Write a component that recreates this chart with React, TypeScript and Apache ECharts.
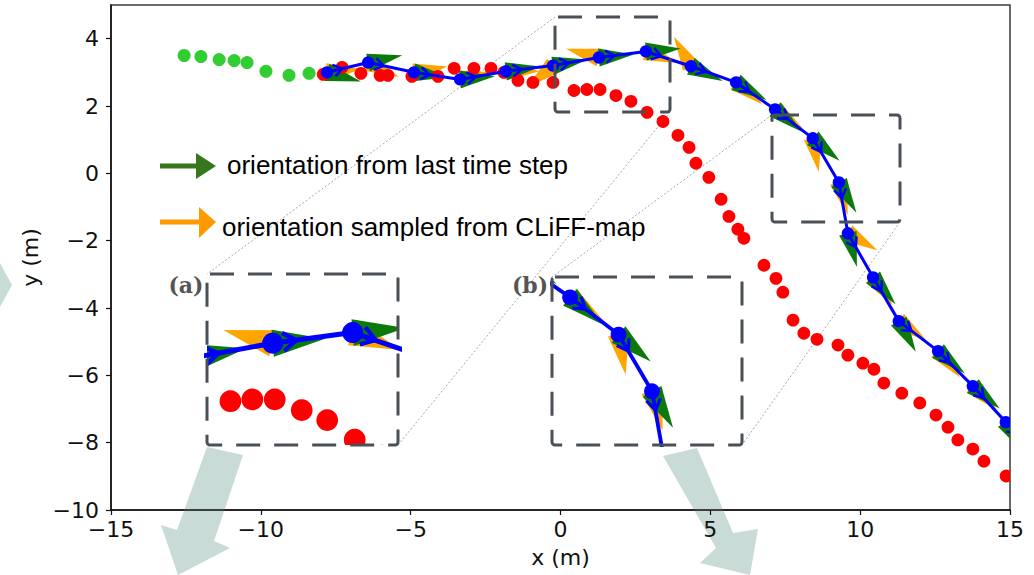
import React, { useEffect, useRef } from "react";
import * as echarts from "echarts";

// ---------- data ----------
const xTicks = [-15, -10, -5, 0, 5, 10, 15];
const yTicks = [-10, -8, -6, -4, -2, 0, 2, 4];

// observed past trajectory (green dots)
const pastX = [-12.56, -12.0, -11.39, -10.89, -10.46, -9.83, -9.06, -8.39];
const pastY = [3.5, 3.47, 3.38, 3.35, 3.29, 3.03, 2.91, 2.97];

// ground-truth future (red dots)
const truthX = [
  -7.92, -7.29, -6.66, -6.02, -5.76, -4.96, -4.09, -3.55, -2.89, -2.32, -1.89, -1.42, -0.92, -0.25,
  0.45, 0.88, 1.32, 1.85, 2.35, 2.89, 3.42, 3.92, 4.29, 4.52, 4.95, 5.36, 5.62, 5.92, 6.12,
  6.79, 7.19, 7.42, 7.76, 8.12, 8.56, 9.26, 9.59, 10.09, 10.46, 10.79, 11.39, 11.99, 12.53,
  12.93, 13.26, 13.76, 14.13, 14.87,
];
const truthY = [
  2.94, 3.15, 2.97, 2.91, 2.91, 2.88, 2.88, 3.12, 3.12, 3.12, 3.0, 2.76, 2.7, 2.7,
  2.46, 2.49, 2.49, 2.31, 2.14, 1.81, 1.54, 1.13, 0.77, 0.3, -0.12, -0.77, -1.28, -1.66, -1.93,
  -2.73, -3.12, -3.53, -4.36, -4.75, -4.93, -5.1, -5.4, -5.64, -5.82, -6.23, -6.53, -6.82, -7.18,
  -7.54, -7.92, -8.19, -8.55, -8.99,
];

// predicted trajectory (blue)
const predX = [-7.79, -6.42, -4.89, -3.35, -1.82, -0.25, 1.28, 2.85, 4.35, 5.86, 7.16, 8.42, 9.29, 9.59, 10.43, 11.29, 12.6, 13.76, 14.86];
const predY = [3.0, 3.29, 3.0, 2.79, 3.03, 3.2, 3.44, 3.62, 3.18, 2.7, 1.9, 1.04, -0.27, -1.78, -3.09, -4.39, -5.28, -6.32, -7.39];
// heading of blue arrowheads (deg)
const predHeading = [14, -12, -9, 10, 7, 10, 7, -18, -20, -35, -37, -59, -80, -60, -59, -38, -45, -47, -47];
// orientation from last time step (green), deg
const greenAngle = [-15, 12, -8, 5, 8, 10, 5, 5, -25, -30, -40, -40, -60, -75, -50, -61, -40, -40, -60];
// orientation sampled from CLiFF-map (orange), deg
const orangeAngle = [5, -25, 10, 12, 0, 220, 165, -20, 120, -40, -35, -80, -75, -30, -55, -35, -50, -45, -55];

const legendLabels = ["orientation from last time step", "orientation sampled from CLiFF-map"];
const insetLabels = ["(a)", "(b)"];

// axis windows of the two magnified insets
const insetAX = [-0.01, 3.74];
const insetAY = [1.72, 4.61];
const insetBX = [6.69, 11.63];
const insetBY = [-1.51, 2.37];

// ---------- styles ----------
const RED = "#ff0000";
const LIME = "#32cd32";
const BLUE = "#0000ff";
const GREEN = "#0b7a0b";
const ORANGE = "#ffa500";
const TICK_FONT = "DejaVu Sans";

const minus = (v: number) => String(v).replace("-", "\u2212");

function dotRender(r: number, color: string) {
  return (_p: any, api: any) => {
    const c = api.coord([api.value(0), api.value(1)]);
    return { type: "circle", shape: { cx: c[0], cy: c[1], r }, style: { fill: color } };
  };
}

function arrowRender(L: number, hw: number, color: string) {
  return (_p: any, api: any) => {
    const c = api.coord([api.value(0), api.value(1)]);
    const t = (api.value(2) * Math.PI) / 180;
    const ux = Math.cos(t);
    const uy = -Math.sin(t);
    const px = -uy;
    const py = ux;
    return {
      type: "polygon",
      shape: {
        points: [
          [c[0] + hw * px, c[1] + hw * py],
          [c[0] + L * ux, c[1] + L * uy],
          [c[0] - hw * px, c[1] - hw * py],
        ],
      },
      style: { fill: color },
    };
  };
}

function chevronRender(d: number, a: number, w: number, lw: number) {
  return (_p: any, api: any) => {
    const c = api.coord([api.value(0), api.value(1)]);
    const t = (api.value(2) * Math.PI) / 180;
    const ux = Math.cos(t);
    const uy = -Math.sin(t);
    const px = -uy;
    const py = ux;
    const ax = c[0] + d * ux;
    const ay = c[1] + d * uy;
    return {
      type: "polyline",
      shape: {
        points: [
          [ax - a * ux + w * px, ay - a * uy + w * py],
          [ax, ay],
          [ax - a * ux - w * px, ay - a * uy - w * py],
        ],
      },
      style: { stroke: BLUE, lineWidth: lw, fill: null },
    };
  };
}

function seriesFor(g: number, f: number) {
  const base = { coordinateSystem: "cartesian2d", xAxisIndex: g, yAxisIndex: g, clip: true, silent: true };
  const past = pastX.map((x, i) => [x, pastY[i]]);
  const truth = truthX.map((x, i) => [x, truthY[i]]);
  const pred = predX.map((x, i) => [x, predY[i]]);
  const green = predX.map((x, i) => [x, predY[i], greenAngle[i]]);
  const orange = predX.map((x, i) => [x, predY[i], orangeAngle[i]]);
  const heads = predX.map((x, i) => [x, predY[i], predHeading[i]]);
  const af = g === 0 ? 1 : g === 1 ? 1.5 : 1.2;
  return [
    { ...base, type: "custom", z: 2, encode: { x: 0, y: 1 }, data: past, renderItem: dotRender(6.5 * f, LIME) },
    { ...base, type: "custom", z: 3, encode: { x: 0, y: 1 }, data: orange, renderItem: arrowRender(34 * af, 9 * af, ORANGE) },
    { ...base, type: "custom", z: 4, encode: { x: 0, y: 1 }, data: green, renderItem: arrowRender(35 * af, 9 * af, GREEN) },
    { ...base, type: "custom", z: 5, encode: { x: 0, y: 1 }, data: truth, renderItem: dotRender(6.4 * f, RED) },
    {
      ...base,
      type: "line",
      z: 6,
      data: pred,
      showSymbol: false,
      lineStyle: { color: BLUE, width: 3 * f },
    },
    { ...base, type: "custom", z: 7, encode: { x: 0, y: 1 }, data: pred, renderItem: dotRender(6.2 * f, BLUE) },
    { ...base, type: "custom", z: 8, encode: { x: 0, y: 1 }, data: heads, renderItem: chevronRender(16 * af, 9 * af, 6 * af, 2.5 * f) },
  ];
}

function overlayArrow(points: number[][]) {
  return { type: "polygon", z: 1, shape: { points }, style: { fill: "#c3d7d1", opacity: 0.9 } };
}

function dashedBox(x: number, y: number, w: number, h: number) {
  return {
    type: "rect",
    z: 100,
    shape: { x, y, width: w, height: h, r: 3 },
    style: { fill: "none", stroke: "#4b5057", lineWidth: 3, lineDash: [24, 14] },
  };
}

function connector(x1: number, y1: number, x2: number, y2: number) {
  return {
    type: "line",
    z: 1,
    shape: { x1, y1, x2, y2 },
    style: { stroke: "#a8a8a8", lineWidth: 1, lineDash: [2, 2] },
  };
}

export default function App() {
  const ref = useRef<HTMLDivElement>(null);
  useEffect(() => {
    if (!ref.current) return;
    const chart = echarts.init(ref.current, undefined, { renderer: "svg" });
    const hiddenAxis = (gi: number, r: number[]) => ({ gridIndex: gi, type: "value", min: r[0], max: r[1], show: false });
    chart.setOption({
      animation: false,
      backgroundColor: "#fff",
      grid: [
        { left: 111, top: 5, width: 899, height: 505, show: true, borderColor: "#3a3a3a", borderWidth: 1.5, backgroundColor: "transparent" },
        { left: 207, top: 274, width: 191, height: 171, show: true, borderWidth: 0, backgroundColor: "#fff" },
        { left: 552, top: 277, width: 190, height: 168, show: true, borderWidth: 0, backgroundColor: "#fff" },
      ],
      xAxis: [
        {
          gridIndex: 0,
          type: "value",
          min: xTicks[0],
          max: xTicks[xTicks.length - 1],
          interval: 5,
          z: 5,
          name: "x (m)",
          nameLocation: "middle",
          nameGap: 36,
          nameTextStyle: { fontFamily: TICK_FONT, fontSize: 22, color: "#111" },
          axisLine: { show: true, onZero: false, lineStyle: { color: "#111", width: 1.5 } },
          axisTick: { show: true, inside: false, length: 5, lineStyle: { color: "#111", width: 1.2 } },
          splitLine: { show: false },
          axisLabel: { formatter: minus, fontFamily: TICK_FONT, fontSize: 22, color: "#111", margin: 8 },
        },
        hiddenAxis(1, insetAX),
        hiddenAxis(2, insetBX),
      ],
      yAxis: [
        {
          gridIndex: 0,
          type: "value",
          min: -10,
          max: 5,
          z: 5,
          name: "y (m)",
          nameLocation: "middle",
          nameGap: 70,
          nameTextStyle: { fontFamily: TICK_FONT, fontSize: 22, color: "#111" },
          axisLine: { show: true, onZero: false, lineStyle: { color: "#111", width: 1.5 } },
          axisTick: { show: true, inside: false, length: 5, customValues: yTicks, lineStyle: { color: "#111", width: 1.2 } },
          splitLine: { show: false },
          axisLabel: { customValues: yTicks, formatter: minus, fontFamily: TICK_FONT, fontSize: 22, color: "#111", margin: 12 },
        },
        hiddenAxis(1, insetAY),
        hiddenAxis(2, insetBY),
      ],
      series: [...seriesFor(0, 1), ...seriesFor(1, 1.7), ...seriesFor(2, 1.28)],
      graphic: {
        elements: [
          // decorative big arrows outside the axes
          overlayArrow([[0, 263], [12, 285], [0, 307]]),
          overlayArrow([[207, 447], [243, 455], [214, 541], [230, 548], [178, 575], [161, 525], [177, 530]]),
          overlayArrow([[663, 456], [697, 448], [733, 533], [758, 529], [750, 575], [700, 563], [716, 548]]),
          // connector lines
          connector(555, 17, 207, 274),
          connector(670, 112, 398, 445),
          connector(772, 115, 552, 277),
          connector(900, 222, 742, 445),
          // dashed boxes
          dashedBox(555, 17, 115, 95),
          dashedBox(772, 115, 128, 107),
          dashedBox(207, 274, 191, 171),
          dashedBox(552, 277, 190, 168),
          // inset labels
          {
            type: "text",
            z: 100,
            style: { x: 186, y: 285, text: insetLabels[0], font: "bold 22px 'DejaVu Serif'", fill: "#555", align: "center", verticalAlign: "middle" },
          },
          {
            type: "text",
            z: 100,
            style: { x: 530, y: 285, text: insetLabels[1], font: "bold 22px 'DejaVu Serif'", fill: "#555", align: "center", verticalAlign: "middle" },
          },
          // legend arrows
          { type: "line", z: 100, shape: { x1: 160, y1: 166, x2: 200, y2: 166 }, style: { stroke: "#38761d", lineWidth: 5 } },
          { type: "polygon", z: 100, shape: { points: [[196, 153], [216, 166], [196, 179]] }, style: { fill: "#38761d" } },
          { type: "line", z: 100, shape: { x1: 160, y1: 222, x2: 202, y2: 222 }, style: { stroke: "#ff9900", lineWidth: 5 } },
          { type: "polygon", z: 100, shape: { points: [[199, 207], [216, 222], [199, 238]] }, style: { fill: "#ff9900" } },
          {
            type: "text",
            z: 100,
            style: { x: 227, y: 165, text: legendLabels[0], font: "26px 'Liberation Sans'", fill: "#000", verticalAlign: "middle" },
          },
          {
            type: "text",
            z: 100,
            style: { x: 222, y: 227, text: legendLabels[1], font: "26px 'Liberation Sans'", fill: "#000", verticalAlign: "middle" },
          },
        ],
      },
    });
    return () => chart.dispose();
  }, []);
  return <div ref={ref} style={{ position: "fixed", left: 0, top: 0, width: 1034, height: 575 }} />;
}
